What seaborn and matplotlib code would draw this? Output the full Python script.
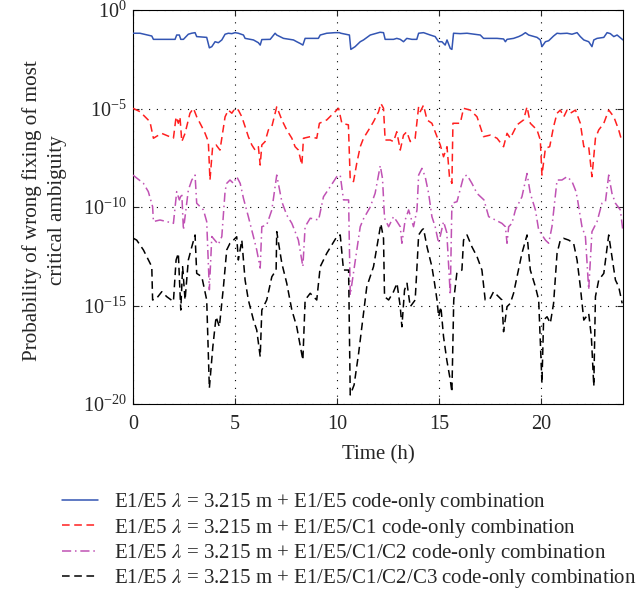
import numpy as np
import pandas as pd
import seaborn as sns
import matplotlib
matplotlib.use("Agg")
import matplotlib.pyplot as plt
from matplotlib.lines import Line2D

# ---------------- data (time in hours, log10 of probability) ----------------
blue_t = [0, 0.34, 0.92, 1.0, 2.06, 2.14, 2.27, 2.34, 2.47, 2.71, 2.87, 3.04, 3.12, 3.61, 3.74,
          3.86, 4.02, 4.18, 4.35, 4.51, 4.67, 4.84, 5.0, 5.16, 5.41, 5.49, 5.9, 6.14, 6.23, 6.31,
          6.72, 6.96, 7.04, 7.37, 7.86, 8.02, 8.19, 8.32, 8.43, 9.08, 9.17, 9.49, 9.9, 10.11, 10.18,
          10.6, 10.67, 10.88, 11.13, 11.29, 11.62, 12.1, 12.27, 12.35, 12.76, 12.92, 13.09, 13.25,
          13.41, 13.66, 13.9, 13.99, 14.23, 14.56, 14.8, 14.97, 15.13, 15.29, 15.38, 15.54, 15.62,
          15.7, 16.03, 16.36, 17.01, 17.17, 17.83, 18.15, 18.24, 18.32, 18.64, 18.89, 19.05, 19.22,
          19.38, 19.79, 19.95, 20.03, 20.2, 20.36, 20.6, 20.77, 20.93, 21.26, 21.5, 21.75, 21.91,
          22.08, 22.32, 22.48, 22.57, 22.73, 23.06, 23.22, 23.38, 23.55, 23.71, 24.0]
blue_log = [-1.18, -1.18, -1.32, -1.49, -1.49, -1.27, -1.27, -1.49, -1.49, -1.23, -1.18, -1.15,
            -1.35, -1.39, -1.92, -1.86, -1.61, -1.66, -1.52, -1.23, -1.18, -1.2, -1.15, -1.18,
            -1.27, -1.44, -1.52, -1.66, -1.78, -1.5, -1.49, -1.18, -1.27, -1.44, -1.52, -1.61,
            -1.7, -1.78, -1.44, -1.44, -1.27, -1.18, -1.15, -1.15, -1.18, -1.27, -2.0, -1.86,
            -1.61, -1.52, -1.27, -1.13, -1.15, -1.49, -1.49, -1.44, -1.49, -1.61, -1.44, -1.49,
            -1.49, -1.18, -1.15, -1.27, -1.35, -1.61, -1.61, -1.78, -1.52, -1.95, -2.0, -1.18,
            -1.2, -1.18, -1.27, -1.44, -1.44, -1.47, -1.61, -1.49, -1.44, -1.35, -1.27, -1.15,
            -1.27, -1.39, -1.52, -1.86, -1.61, -1.56, -1.32, -1.18, -1.2, -1.18, -1.23, -1.15,
            -1.35, -1.52, -1.61, -1.86, -1.52, -1.44, -1.39, -1.15, -1.2, -1.35, -1.27, -1.52]

red_t = [0, 0.34, 0.83, 1.0, 1.4, 1.98, 2.11, 2.22, 2.3, 2.39, 2.55, 2.79, 2.96, 3.12, 3.37,
         3.53, 3.69, 3.77, 3.9, 4.07, 4.26, 4.51, 4.67, 4.84, 5.0, 5.16, 5.33, 5.49, 5.65, 5.82,
         5.98, 6.14, 6.23, 6.31, 6.47, 6.63, 6.8, 7.04, 7.29, 7.53, 7.78, 7.94, 8.1, 8.27, 8.35,
         8.68, 9.0, 9.13, 9.49, 9.82, 10.07, 10.23, 10.55, 10.64, 10.8, 10.96, 11.13, 11.29, 11.54,
         11.78, 12.03, 12.14, 12.27, 12.35, 12.6, 12.76, 12.92, 13.09, 13.25, 13.41, 13.58, 13.82,
         13.99, 14.07, 14.23, 14.4, 14.64, 14.89, 15.05, 15.21, 15.38, 15.5, 15.62, 15.67, 16.03,
         16.19, 16.52, 16.85, 17.17, 17.5, 17.83, 18.15, 18.32, 18.48, 18.81, 19.13, 19.3, 19.46,
         19.79, 19.95, 20.03, 20.2, 20.41, 20.6, 20.77, 20.93, 21.1, 21.26, 21.42, 21.67, 21.91,
         22.08, 22.32, 22.48, 22.65, 22.81, 23.06, 23.3, 23.55, 23.79, 23.95]
red_log = [-4.99, -5.16, -5.67, -6.51, -6.26, -6.51, -5.42, -5.75, -5.42, -6.68, -6.26, -5.24,
           -4.99, -5.42, -5.92, -6.26, -6.68, -8.63, -6.94, -6.85, -7.11, -5.42, -5.08, -5.24,
           -4.99, -5.08, -5.42, -5.92, -6.43, -6.85, -7.11, -6.94, -7.87, -6.85, -6.68, -6.09,
           -5.92, -4.91, -5.58, -6.09, -6.51, -6.94, -7.11, -7.87, -6.51, -6.43, -6.51, -5.75,
           -5.58, -5.24, -4.99, -5.75, -5.83, -8.63, -8.71, -7.78, -6.94, -6.51, -6.09, -5.67,
           -5.16, -4.74, -4.99, -6.6, -6.6, -6.68, -6.18, -7.11, -6.35, -6.18, -6.68, -6.51,
           -4.91, -5.16, -4.83, -5.58, -5.75, -6.43, -6.85, -7.45, -6.94, -8.46, -8.8, -5.75,
           -5.75, -4.99, -5.08, -5.42, -6.43, -6.35, -6.51, -6.94, -6.26, -6.51, -5.83, -5.58,
           -4.91, -5.75, -6.09, -6.6, -8.38, -7.02, -6.94, -5.92, -5.24, -5.08, -5.42, -5.08,
           -5.24, -5.08, -5.75, -6.94, -6.94, -8.46, -6.51, -6.09, -5.75, -5.08, -5.42, -6.09,
           -6.68]

mag_t = [0, 0.51, 0.75, 0.96, 1.0, 1.32, 1.65, 1.98, 2.14, 2.27, 2.39, 2.47, 2.71, 2.88, 3.04,
         3.12, 3.45, 3.61, 3.74, 3.86, 4.02, 4.18, 4.35, 4.51, 4.59, 4.75, 4.92, 5.08, 5.25, 5.41,
         5.65, 5.9, 6.06, 6.23, 6.31, 6.55, 6.8, 7.04, 7.29, 7.53, 7.78, 7.94, 8.1, 8.32, 8.43,
         8.68, 9.09, 9.33, 9.66, 9.98, 10.15, 10.31, 10.56, 10.64,
         11.13, 11.29, 11.62, 11.86, 12.11, 12.22, 12.32, 12.52, 12.76, 12.93, 13.09, 13.17, 13.33,
         13.5, 13.74, 13.91, 13.99, 14.15, 14.31, 14.48, 14.64, 14.8, 14.97, 15.21, 15.37, 15.54,
         15.62, 15.87, 16.19, 16.36, 16.6, 16.85, 17.19, 17.42, 17.75, 18.07, 18.24, 18.32, 18.4,
         18.56, 18.73, 19.05, 19.3, 19.46, 19.71, 19.87, 20.2, 20.36, 20.52, 20.77, 21.01, 21.26,
         21.5, 21.67, 21.75, 21.99, 22.16, 22.32, 22.48, 22.73, 22.97, 23.14, 23.3, 23.46, 23.63,
         23.87, 24.0]
mag_log = [-8.38, -8.8, -9.22, -9.98, -10.74, -10.66, -10.74, -10.83, -9.22, -9.64, -9.31,
           -11.17, -9.14, -8.63, -8.38, -9.81, -10.15, -10.74, -14.2, -11.5, -11.7, -11.9, -11.5,
           -9.2, -8.8, -8.63, -8.8, -8.46, -8.8, -9.56, -10.49, -11.51, -12.18, -13.1, -11.0,
           -10.91, -10.15, -8.38, -9.73, -10.41, -10.83, -11.25, -11.68, -13.03, -11.0, -10.57,
           -10.66, -9.48, -8.97, -8.46, -8.38, -9.64, -9.64, -14.47,
           -11.0, -10.6, -10.0, -9.3, -7.9, -8.55, -10.57, -11.0, -10.49, -10.74, -11.0, -11.84,
           -10.66, -10.15, -11.0, -10.15, -8.38, -8.04, -8.46, -9.31, -10.49, -11.0, -11.84,
           -10.74, -11.3, -14.47, -9.81, -9.73, -8.46, -8.38, -8.8, -9.31, -9.64, -10.49, -10.66,
           -10.83, -11.0, -11.84, -11.0, -10.83, -10.15, -9.48, -8.3, -9.31, -10.15, -11.17,
           -11.68, -11.84, -11.0, -8.63, -8.63, -8.46, -8.7, -9.14, -9.48, -11.0, -11.51, -14.2,
           -11.25, -10.74, -9.81, -9.73, -8.38, -9.31, -9.81, -10.15, -11.25]

blk_t = [0.02, 0.18, 0.51, 0.92, 0.96, 1.16, 1.41, 1.65, 1.98, 2.11, 2.22, 2.27, 2.34, 2.43, 2.55,
         2.71, 2.88, 3.04, 3.12, 3.37, 3.61, 3.74, 3.91, 4.07, 4.23, 4.43, 4.59, 4.75, 4.92, 5.08,
         5.16, 5.33, 5.49, 5.65, 5.9, 6.06, 6.23, 6.31, 6.55, 6.8, 7.01, 7.04, 7.29, 7.53, 7.78,
         8.02, 8.32, 8.43, 8.68, 9.0, 9.17, 9.49, 9.98, 10.15, 10.31, 10.56, 10.64, 10.83, 11.05,
         11.29, 11.45, 11.78,
         12.14, 12.27, 12.32, 12.52, 12.76, 12.93, 13.09, 13.17, 13.3, 13.42, 13.58, 13.82, 13.91,
         13.99, 14.15, 14.23, 14.4, 14.64, 14.77, 14.89, 14.97, 15.08, 15.21, 15.37, 15.54, 15.62,
         15.71, 15.86, 16.11, 16.19, 16.36, 16.6, 16.85, 17.09, 17.25, 17.5, 17.66, 18.07, 18.15,
         18.32, 18.48, 18.64, 18.81, 19.05, 19.3, 19.46, 19.71, 19.87, 20.03, 20.11, 20.28, 20.44,
         20.6, 20.77, 20.93, 21.09, 21.34, 21.58, 21.75, 21.91, 22.08, 22.32, 22.45, 22.57, 22.65,
         22.81, 23.06, 23.3, 23.46, 23.63, 23.79, 23.96]
blk_log = [-11.59, -11.68, -12.18, -13.03, -14.72, -14.63, -14.3, -14.55, -14.8, -12.69, -12.35,
           -13.54, -15.23, -13.03, -14.72, -12.69, -12.02, -11.42, -13.37, -13.54, -14.72, -19.2,
           -17.1, -15.57, -16.08, -14.05, -12.18, -11.84, -11.68, -11.51, -12.69, -11.68, -13.71,
           -14.72, -15.74, -16.24, -17.6, -15.23, -14.72, -13.54, -13.2, -11.25, -12.86, -13.87,
           -15.23, -16.08, -17.77, -14.72, -14.38, -14.72, -13.03, -12.35, -11.51, -11.42, -13.2,
           -13.2, -19.54, -19.03, -17.43, -15.4, -14.05, -13.03,
           -10.85, -11.59, -14.55, -14.72, -14.3, -13.87, -15.06, -16.08, -14.21, -13.87, -15.06,
           -14.72, -13.03, -11.42, -11.17, -11.1, -12.02, -13.03, -13.87, -14.72, -15.57, -15.06,
           -16.58, -17.77, -18.78, -19.4, -14.72, -13.37, -13.2, -11.68, -11.42, -12.02, -12.52,
           -13.2, -14.72, -14.63, -14.3, -14.72, -16.33, -15.06, -14.89, -14.38, -13.54, -12.35,
           -11.42, -13.2, -14.05, -14.72, -18.95, -15.74, -15.57, -15.9, -14.89, -12.35, -11.68,
           -11.59, -11.68, -11.84, -12.69, -14.05, -15.74, -15.4, -16.58, -19.1, -14.55, -13.71,
           -13.37, -11.42, -12.52, -13.71, -14.05, -14.89]

labels = [
    r"E1/E5 $\lambda$ = 3.215 m + E1/E5 code-only combination",
    r"E1/E5 $\lambda$ = 3.215 m + E1/E5/C1 code-only combination",
    r"E1/E5 $\lambda$ = 3.215 m + E1/E5/C1/C2 code-only combination",
    r"E1/E5 $\lambda$ = 3.215 m + E1/E5/C1/C2/C3 code-only combination",
]
x_ticks = [0, 5, 10, 15, 20]
y_ticks = [1e0, 1e-5, 1e-10, 1e-15, 1e-20]

# ---------------- style ----------------
sns.set_style("ticks")
plt.rcParams["font.family"] = ["Liberation Serif", "DejaVu Serif"]
plt.rcParams["mathtext.fontset"] = "stix"
plt.rcParams["xtick.direction"] = "in"
plt.rcParams["ytick.direction"] = "in"

fig = plt.figure(figsize=(6.43, 5.98), dpi=100)
ax = fig.add_axes([133 / 643, 1 - 404 / 598, 490 / 643, 394 / 598])

series = [
    (blue_t, blue_log, "#3355b3", None),
    (red_t, red_log, "#ff1f1f", (0, (5, 3))),
    (mag_t, mag_log, "#c052b4", (0, (6, 2.5, 1, 2.5))),
    (blk_t, blk_log, "#000000", (0, (5, 3))),
]
handles = []
for (t, lg, col, dash), lab in zip(series, labels):
    df = pd.DataFrame({"t": t, "p": np.power(10.0, np.array(lg))})
    sns.lineplot(data=df, x="t", y="p", ax=ax, color=col, estimator=None, sort=False,
                 linewidth=1.1, zorder=3)
    line = ax.get_lines()[-1]
    if dash is not None:
        line.set_linestyle(dash)
    handles.append(Line2D([], [], color=col, lw=1.1,
                          linestyle=dash if dash is not None else "-"))

ax.set_yscale("log")
ax.set_xlim(0, 24)
ax.set_ylim(1e-20, 1e0)
ax.set_xticks(x_ticks)
ax.set_yticks(y_ticks)
ax.yaxis.set_minor_locator(matplotlib.ticker.NullLocator())
ax.xaxis.set_minor_locator(matplotlib.ticker.NullLocator())
ax.tick_params(axis="both", which="major", direction="in", length=4, width=0.8,
               top=True, right=True, labelsize=14.5)
ax.tick_params(axis="x", pad=8)
ax.tick_params(axis="y", pad=4.5)
ax.grid(True, which="major", color="black", linestyle=(0, (1, 6)), linewidth=0.8, zorder=0)
ax.set_axisbelow(True)
for s in ax.spines.values():
    s.set_linewidth(0.8)
    s.set_color("black")

ax.set_xlabel("Time (h)", fontsize=15, labelpad=8)
ax.set_ylabel("Probability of wrong fixing of most\ncritical ambiguity", fontsize=15.2,
              linespacing=1.45)
ax.yaxis.set_label_coords(-0.135, 0.492)

fig.legend(handles, labels, loc="upper left", bbox_to_anchor=(62 / 643, 1 - 491 / 598),
           bbox_transform=fig.transFigure, frameon=False, fontsize=15, borderpad=0,
           borderaxespad=0, handlelength=1.75, handletextpad=0.75, labelspacing=0.12)

fig.savefig("out.png", dpi=100)
